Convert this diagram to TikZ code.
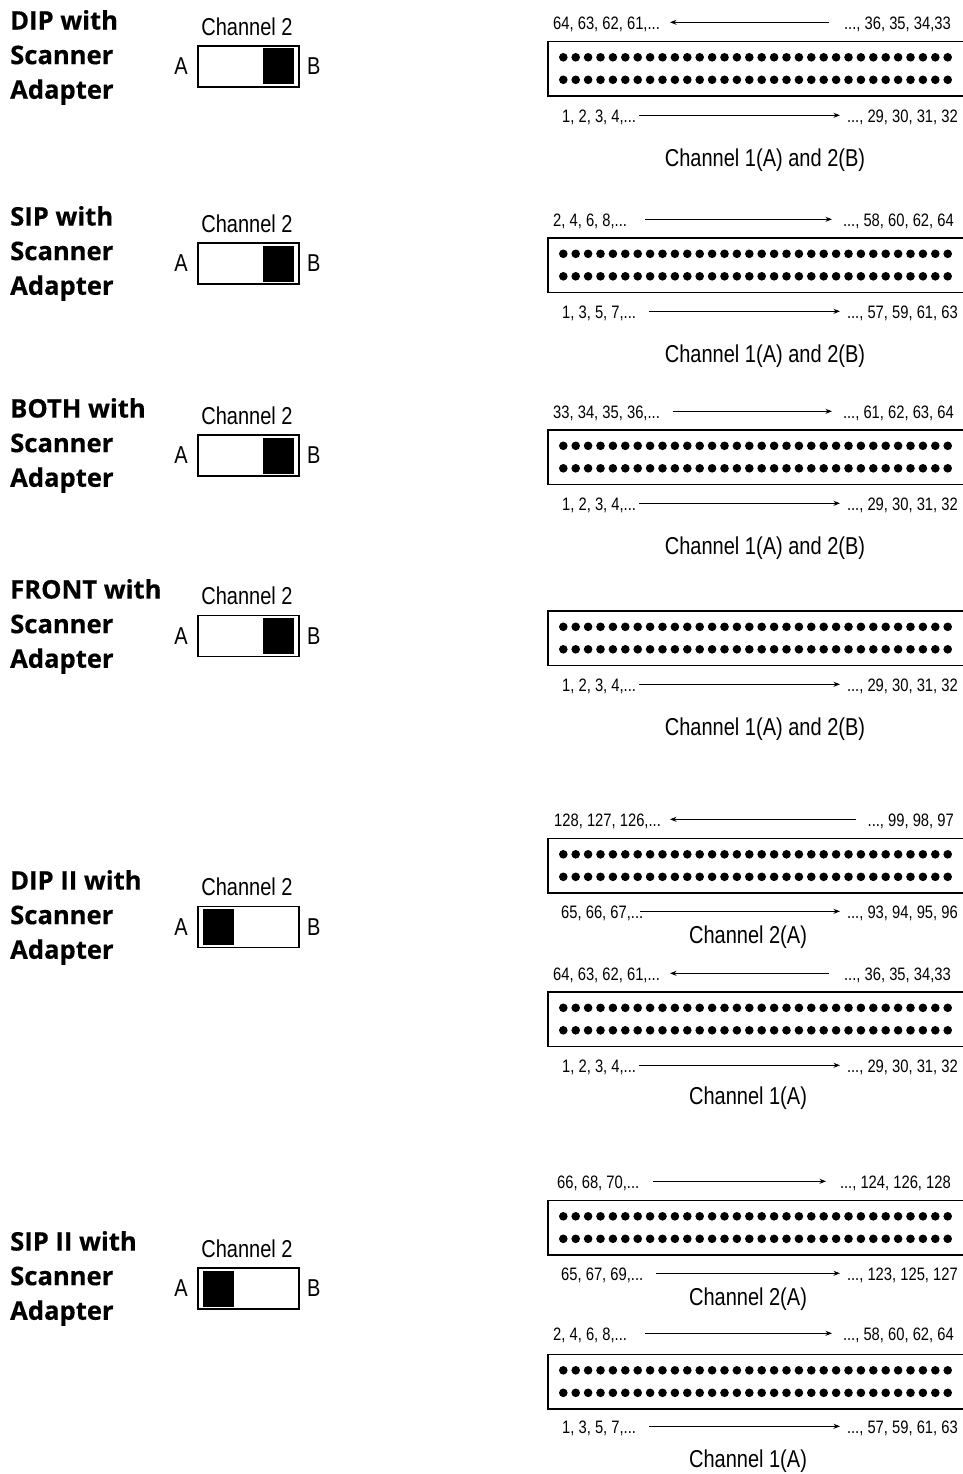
\documentclass[tikz,border=0pt]{standalone}
\usepackage{fontspec}
\setmainfont{Liberation Sans}
\newfontfamily\labfont[FakeStretch=0.82]{Liberation Sans}
\newfontfamily\headfont[BoldFeatures={FakeBold=0.4}]{Open Sans}
\usetikzlibrary{arrows.meta}
\tikzset{
  x=1pt,y=-1pt,
  stripbox/.style={draw=black,line width=1.7pt,fill=white,minimum width=430pt,minimum height=54.5pt,anchor=north west,inner sep=0pt,outer sep=0pt},
  switchbox/.style={draw=black,line width=1.3pt,fill=white,minimum width=101pt,minimum height=41pt,anchor=north west,inner sep=0pt,outer sep=0pt},
  knob/.style={fill=black,draw=none,minimum width=31pt,minimum height=36pt,anchor=north west,inner sep=0pt,outer sep=0pt},
  numlabel/.style={font=\labfont\fontsize{18}{20}\selectfont,inner sep=0pt,text depth=0pt},
  chanlabel/.style={font=\labfont\fontsize{24.4}{28}\selectfont,inner sep=0pt},
  swlabel/.style={font=\labfont\fontsize{24.4}{28}\selectfont,inner sep=0pt},
  headlabel/.style={font=\headfont\bfseries\fontsize{25.6}{34.6}\selectfont,align=left,anchor=west,inner sep=0pt},
  flow/.style={line width=1.3pt,-{Stealth[length=6.5pt,width=5pt]}},
  pindot/.style={fill=black},
}
% id, top y
\newcommand\strip[2]{%
  \node[stripbox] (#1) at (548,#2) {};
  \foreach \k in {0,...,31}{
    \fill[pindot] ({563.3+12.4*\k},{#2+15.8}) circle (4.3);
    \fill[pindot] ({563.3+12.4*\k},{#2+38.3}) circle (4.3);
  }%
}
% id, y, left text, left x, right text, right x, arrow from x, arrow to x
\newcommand\flowrow[8]{%
  \node[numlabel,anchor=west] (#1l) at (#4,#2) {#3};
  \node[numlabel,anchor=east] (#1r) at (#6,#2) {#5};
  \coordinate (#1a) at (#7,{#2-0.7});
  \coordinate (#1b) at (#8,{#2-0.7});
  \draw[flow] (#1a) -- (#1b);
}
% id, top y of box, knob x
\newcommand\switch[3]{%
  \node[switchbox] (#1) at (198,#2) {};
  \node[knob] (#1k) at (#3,{#2+2.5}) {};
  \node[swlabel] (#1t) at (247,{#2-19.3}) {Channel 2};
  \node[swlabel,anchor=east] (#1a) at ([xshift=-10pt]#1.west) {A};
  \node[swlabel,anchor=west] (#1b) at ([xshift=8pt]#1.east) {B};
}
\begin{document}
\begin{tikzpicture}
\useasboundingbox (0,0) rectangle (962,1474);
\fill[white] (0,0) rectangle (962,1474);
% headings
\node[headlabel] (h1) at (10,57.5) {DIP with\\Scanner\\Adapter};
\node[headlabel] (h2) at (10,253.5) {SIP with\\Scanner\\Adapter};
\node[headlabel] (h3) at (10,445.5) {BOTH with\\Scanner\\Adapter};
\node[headlabel] (h4) at (10,626.5) {FRONT with\\Scanner\\Adapter};
\node[headlabel] (h5) at (10,917.5) {DIP II with\\Scanner\\Adapter};
\node[headlabel] (h6) at (10,1278.5) {SIP II with\\Scanner\\Adapter};
% switches
\switch{sa}{46}{263}
\switch{sb}{243}{263}
\switch{sc}{435}{263}
\switch{sd}{615.5}{263}
\switch{se}{906.5}{203}
\switch{sf}{1268}{203}
% DIP
\strip{pa}{41.5}
\flowrow{au}{23}{64, 63, 62, 61,...}{553}{..., 36, 35, 34,33}{951}{829}{670}
\flowrow{ad}{116}{1, 2, 3, 4,...}{562}{..., 29, 30, 31, 32}{958}{639}{840}
\node[chanlabel] (ca) at (765,160) {Channel 1(A) and 2(B)};
% SIP
\strip{pb}{238}
\flowrow{bu}{220}{2, 4, 6, 8,...}{553}{..., 58, 60, 62, 64}{954}{645}{832}
\flowrow{bd}{312}{1, 3, 5, 7,...}{562}{..., 57, 59, 61, 63}{958}{649}{840}
\node[chanlabel] (cb) at (765,356) {Channel 1(A) and 2(B)};
% BOTH
\strip{pc}{430}
\flowrow{cu}{412}{33, 34, 35, 36,...}{553}{..., 61, 62, 63, 64}{954}{673}{832}
\flowrow{cd}{504}{1, 2, 3, 4,...}{562}{..., 29, 30, 31, 32}{958}{639}{840}
\node[chanlabel] (cc) at (765,548) {Channel 1(A) and 2(B)};
% FRONT
\strip{pd}{611}
\flowrow{dd}{685}{1, 2, 3, 4,...}{562}{..., 29, 30, 31, 32}{958}{639}{840}
\node[chanlabel] (cd) at (765,729) {Channel 1(A) and 2(B)};
% DIP II
\strip{pe}{838.5}
\flowrow{eu}{820}{128, 127, 126,...}{554}{..., 99, 98, 97}{954}{856}{670}
\flowrow{ed}{912}{65, 66, 67,...}{561}{..., 93, 94, 95, 96}{958}{640}{840}
\node[chanlabel] (ce) at (748,937) {Channel 2(A)};
\strip{pf}{992}
\flowrow{fu}{974}{64, 63, 62, 61,...}{553}{..., 36, 35, 34,33}{951}{829}{670}
\flowrow{fd}{1066}{1, 2, 3, 4,...}{562}{..., 29, 30, 31, 32}{958}{639}{840}
\node[chanlabel] (cf) at (748,1098) {Channel 1(A)};
% SIP II
\strip{pg}{1200.5}
\flowrow{gu}{1182}{66, 68, 70,...}{557}{..., 124, 126, 128}{951}{653}{826}
\flowrow{gd}{1274}{65, 67, 69,...}{561}{..., 123, 125, 127}{958}{656}{840}
\node[chanlabel] (cg) at (748,1299) {Channel 2(A)};
\strip{ph}{1354.5}
\flowrow{hu}{1334}{2, 4, 6, 8,...}{553}{..., 58, 60, 62, 64}{954}{645}{832}
\flowrow{hd}{1427}{1, 3, 5, 7,...}{562}{..., 57, 59, 61, 63}{958}{649}{840}
\node[chanlabel] (ch) at (748,1461) {Channel 1(A)};
\end{tikzpicture}
\end{document}
